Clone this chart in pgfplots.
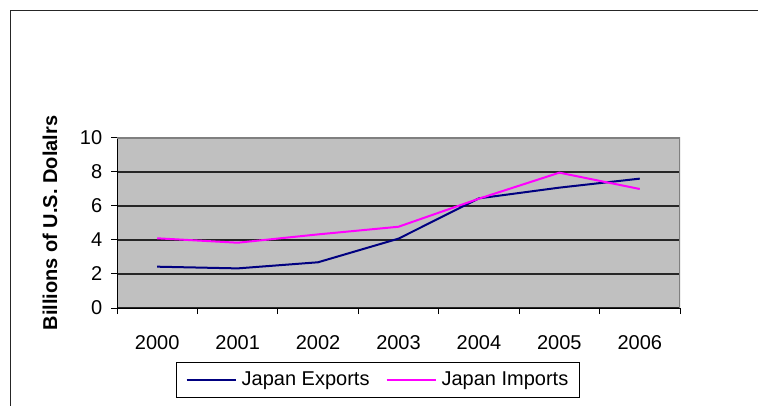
\documentclass[border=0pt]{standalone}
\usepackage{pgfplots}
\pgfplotsset{compat=1.18}
\usepackage{fontspec}
\setmainfont{Liberation Sans}
\definecolor{plotgray}{HTML}{C0C0C0}
\definecolor{bordergray}{HTML}{808080}
\definecolor{expcol}{HTML}{000080}
\definecolor{impcol}{HTML}{FF00FF}
\begin{document}
\fontsize{20bp}{24bp}\selectfont
\begin{tikzpicture}
\path[use as bounding box] (0,0) rectangle (758bp,406bp);
\draw[line width=1.3bp, black!85] (10.5bp,0) -- (10.5bp,395.5bp) -- (758bp,395.5bp);
\begin{axis}[
  at={(117bp,98bp)}, anchor=south west,
  scale only axis, width=563bp, height=170bp,
  xmin=-0.5, xmax=6.5, ymin=0, ymax=10,
  axis background/.style={fill=plotgray},
  axis x line*=bottom, axis y line*=left,
  axis line style={-, black, line width=1bp},
  xtick={-0.5,0.5,...,6.5},
  x tick label as interval,
  xticklabels={2000,2001,2002,2003,2004,2005,2006},
  ytick={0,2,...,10},
  ymajorgrids, grid style={black!85, line width=1.2bp},
  tick align=outside, major tick length=6bp,
  tick style={black, line width=1bp},
  /pgf/number format/assume math mode=true,
  ticklabel style={font=\fontsize{20bp}{24bp}\selectfont},
  xticklabel style={yshift=-15bp},
  yticklabel style={xshift=-2bp},
  ylabel={\bfseries Billions of U.S. Dolalrs},
  ylabel style={at={(axis description cs:-0.119,0.5)}, anchor=center, font=\fontsize{20bp}{24bp}\selectfont},
  legend columns=2,
  legend style={at={(axis description cs:0.4636,-0.4235)}, anchor=center,
    draw=black, fill=white, line width=0.8bp,
    font=\fontsize{20bp}{24bp}\selectfont,
    inner xsep=9bp, inner ysep=7bp,
    /tikz/every odd column/.append style={column sep=3bp},
    /tikz/every even column/.append style={column sep=14bp}},
  legend image code/.code={\draw[#1, line width=2bp] (0bp,0bp) -- (49bp,0bp);},
]
\addplot[expcol, line width=2bp] coordinates {(0,2.43) (1,2.33) (2,2.69) (3,4.08) (4,6.45) (5,7.08) (6,7.61)};
\addlegendentry{Japan Exports}
\addplot[impcol, line width=2bp] coordinates {(0,4.10) (1,3.84) (2,4.33) (3,4.78) (4,6.43) (5,7.96) (6,7.00)};
\addlegendentry{Japan Imports}
\draw[bordergray, line width=1.6bp] (rel axis cs:0,1) -- (rel axis cs:1,1) -- (rel axis cs:1,0);
\end{axis}
\end{tikzpicture}
\end{document}
